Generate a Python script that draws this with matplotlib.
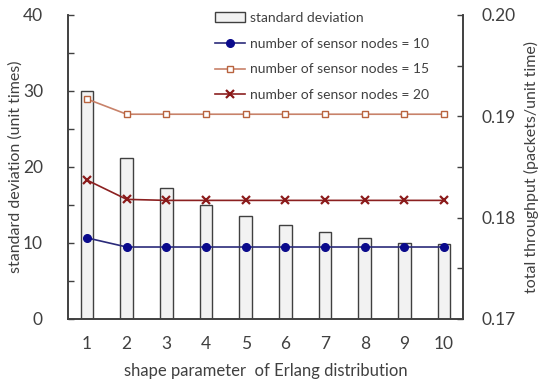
import matplotlib.pyplot as plt
from matplotlib.ticker import MultipleLocator

shape = [1, 2, 3, 4, 5, 6, 7, 8, 9, 10]
std_dev = [30.0, 21.2, 17.2, 15.0, 13.5, 12.3, 11.4, 10.7, 10.0, 9.9]
thr_10 = [0.1780, 0.1771, 0.1771, 0.1771, 0.1771, 0.1771, 0.1771, 0.1771, 0.1771, 0.1771]
thr_15 = [0.1917, 0.1902, 0.1902, 0.1902, 0.1902, 0.1902, 0.1902, 0.1902, 0.1902, 0.1902]
thr_20 = [0.1837, 0.1818, 0.1817, 0.1817, 0.1817, 0.1817, 0.1817, 0.1817, 0.1817, 0.1817]

plt.rcParams['font.family'] = ['Lato', 'DejaVu Sans']
dark = "#404040"

fig = plt.figure(figsize=(5.5, 3.82), dpi=100)
ax = fig.add_axes([0.1236, 0.165, 0.842 - 0.1236, 0.961 - 0.165])
ax2 = ax.twinx()

bars = ax.bar(shape, std_dev, width=0.32, facecolor="#f2f2f2", edgecolor=dark,
              linewidth=1.0, label="standard deviation")
l10, = ax2.plot(shape, thr_10, color="#2b2b7a", marker="o", markersize=5.5,
                markerfacecolor="#0a0a8c", markeredgecolor="#0a0a8c", linewidth=1.2,
                label="number of sensor nodes = 10")
l15, = ax2.plot(shape, thr_15, color="#c8826a", marker="s", markersize=5,
                markerfacecolor="white", markeredgecolor="#b8633e", linewidth=1.2,
                label="number of sensor nodes = 15")
l20, = ax2.plot(shape, thr_20, color="#8b2020", marker="x", markersize=6,
                markeredgewidth=1.6, markeredgecolor="#8b1a1a", linewidth=1.2,
                label="number of sensor nodes = 20")

ax.set_xlim(0.52, 10.48)
ax.set_ylim(0, 40)
ax2.set_ylim(0.17, 0.20)
ax.set_xticks(shape)
ax.yaxis.set_major_locator(MultipleLocator(10))
ax.yaxis.set_minor_locator(MultipleLocator(5))
ax2.yaxis.set_major_locator(MultipleLocator(0.01))
ax2.yaxis.set_minor_locator(MultipleLocator(0.005))
ax2.yaxis.set_major_formatter(plt.FormatStrFormatter('%.2f'))

for a in (ax, ax2):
    a.spines['top'].set_visible(False)
    for s in a.spines.values():
        s.set_color(dark)
        s.set_linewidth(1.2)
    a.tick_params(axis='y', which='both', direction='in', colors=dark, labelsize=12.5,
                  width=1, length=4)
ax.tick_params(axis='y', which='both', pad=18)
ax2.tick_params(axis='y', which='both', pad=13)
ax.tick_params(axis='x', length=0, labelsize=12.5, colors=dark, pad=12)

ax.set_xlabel("shape parameter  of Erlang distribution", fontsize=12, color=dark,
              labelpad=8)
ax.set_ylabel("standard deviation (unit times)", fontsize=11.5, color=dark, labelpad=0)
ax2.set_ylabel("total throughput (packets/unit time)", fontsize=11.5, color=dark,
               labelpad=6)

ax.set_zorder(0)
ax2.set_zorder(1)
ax2.patch.set_visible(False)

leg = ax2.legend([bars, l10, l15, l20],
                 [h.get_label() for h in (bars, l10, l15, l20)],
                 loc='upper left', bbox_to_anchor=(0.34, 1.05), frameon=False,
                 fontsize=10, labelspacing=0.98, handlelength=2.2, handletextpad=0.3,
                 labelcolor=dark)

fig.savefig("out.png", dpi=100)
